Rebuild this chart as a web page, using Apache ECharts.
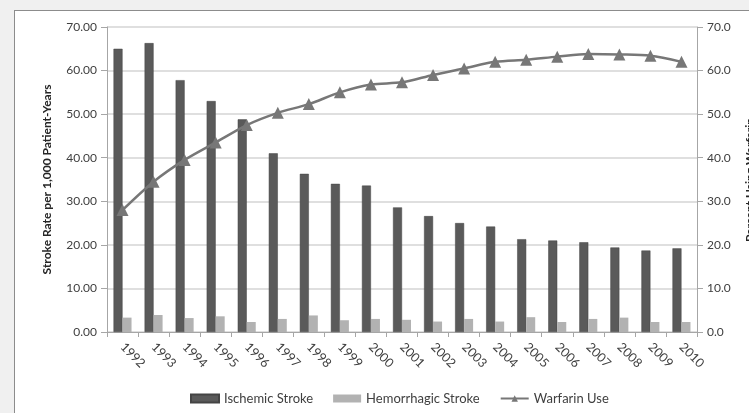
<!DOCTYPE html>
<html>
<head>
<meta charset="utf-8">
<script src="https://cdn.jsdelivr.net/npm/echarts@6/dist/echarts.min.js"></script>
<style>
html,body{margin:0;padding:0;background:#f0f0f0;width:749px;height:413px;overflow:hidden;}
#box{position:absolute;left:14px;top:10px;width:800px;height:500px;background:#fff;border:1px solid #8c8c8c;}
#chart{position:absolute;left:0;top:0;width:749px;height:413px;}
</style>
</head>
<body>
<div id="box"></div>
<div id="chart"></div>
<script>
const years = ['1992','1993','1994','1995','1996','1997','1998','1999','2000','2001','2002','2003','2004','2005','2006','2007','2008','2009','2010'];
const ischemic = [65.0, 66.3, 57.8, 53.0, 48.8, 41.0, 36.3, 34.0, 33.6, 28.6, 26.6, 25.0, 24.2, 21.3, 21.0, 20.6, 19.4, 18.7, 19.2];
const hemorrhagic = [3.3, 3.9, 3.2, 3.6, 2.3, 3.0, 3.8, 2.7, 3.0, 2.8, 2.4, 3.0, 2.4, 3.4, 2.3, 3.0, 3.3, 2.3, 2.3];
const warfarin = [28.0, 34.5, 39.5, 43.5, 47.5, 50.3, 52.3, 55.0, 56.8, 57.3, 59.0, 60.5, 62.0, 62.5, 63.2, 63.8, 63.7, 63.4, 62.0];
const leftTicks = {min: 0, max: 70, interval: 10};
const rightTicks = {min: 0, max: 70, interval: 10};
const rightAxisName = 'Percent Using Warfarin';

const FONT = 'Lato, "Open Sans", sans-serif';
const TXT = '#404040';
const chart = echarts.init(document.getElementById('chart'), null, {renderer: 'canvas'});
chart.setOption({
  backgroundColor: 'transparent',
  animation: false,
  textStyle: {fontFamily: FONT},
  grid: {left: 107, right: 52, top: 27, bottom: 81, containLabel: false, outerBoundsMode: 'none'},
  graphic: [{
    type: 'text', x: 750, y: 180, rotation: Math.PI / 2, silent: true,
    style: {text: rightAxisName, fill: '#262626', font: 'bold 12px ' + FONT, align: 'center', verticalAlign: 'middle'}
  }],
  legend: {
    top: 387, left: 185,
    itemWidth: 28, itemHeight: 8, itemGap: 20,
    textStyle: {color: TXT, fontSize: 13, fontFamily: FONT},
    data: [
      {name: 'Ischemic Stroke', icon: 'rect'},
      {name: 'Hemorrhagic Stroke', icon: 'rect'},
      {name: 'Warfarin Use'}
    ]
  },
  xAxis: {
    type: 'category', data: years,
    axisLine: {lineStyle: {color: '#a6a6a6', width: 1}},
    axisTick: {show: true, length: 5, lineStyle: {color: '#a6a6a6'}},
    axisLabel: {rotate: -45, color: TXT, fontSize: 12.5, fontFamily: FONT, margin: 13}
  },
  yAxis: [{
    type: 'value', min: leftTicks.min, max: leftTicks.max, interval: leftTicks.interval,
    name: 'Stroke Rate per 1,000 Patient-Years', nameLocation: 'middle', nameGap: 54, nameRotate: 90,
    nameTextStyle: {fontWeight: 'bold', fontSize: 12, color: '#262626', fontFamily: FONT},
    axisLine: {show: true, lineStyle: {color: '#a6a6a6'}},
    axisTick: {show: true, length: 6, lineStyle: {color: '#a6a6a6'}},
    axisLabel: {color: TXT, fontSize: 12, fontFamily: FONT, margin: 10, formatter: v => v.toFixed(2)},
    splitLine: {show: true, lineStyle: {color: '#d4d4d4', width: 1.5}}
  }, {
    type: 'value', min: rightTicks.min, max: rightTicks.max, interval: rightTicks.interval,
    position: 'right',
    axisLine: {show: true, lineStyle: {color: '#a6a6a6'}},
    axisTick: {show: true, length: 6, lineStyle: {color: '#a6a6a6'}},
    axisLabel: {color: TXT, fontSize: 12, fontFamily: FONT, margin: 10, formatter: v => v.toFixed(1)},
    splitLine: {show: false}
  }],
  series: [{
    name: 'Ischemic Stroke', type: 'bar', data: ischemic, yAxisIndex: 0,
    barWidth: 9, barGap: '0%',
    itemStyle: {color: '#5a5a5a', borderColor: '#444', borderWidth: 0.5}
  }, {
    name: 'Hemorrhagic Stroke', type: 'bar', data: hemorrhagic, yAxisIndex: 0,
    barWidth: 9, barGap: '0%',
    itemStyle: {color: '#b2b2b2'}
  }, {
    name: 'Warfarin Use', type: 'line', data: warfarin, yAxisIndex: 1,
    smooth: 0.3, symbol: 'triangle', symbolSize: 12,
    lineStyle: {color: '#777777', width: 2.5},
    itemStyle: {color: '#777777'}
  }]
});
</script>
</body>
</html>
